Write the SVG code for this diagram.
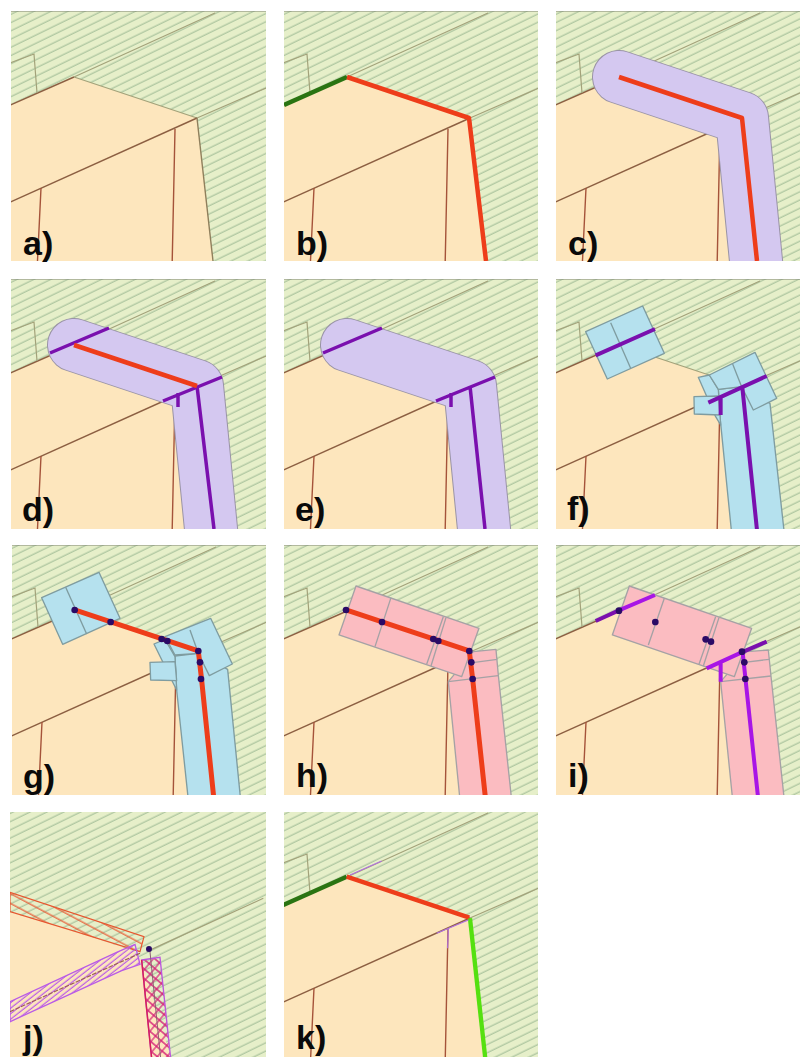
<svg xmlns="http://www.w3.org/2000/svg" xmlns:xlink="http://www.w3.org/1999/xlink" width="800" height="1057" viewBox="0 0 800 1057">
<style>
.lbl{font:bold 34px "Liberation Sans",Arial,sans-serif;fill:#0a0a0a}
.rid{fill:none;stroke:#8c5f42;stroke-width:1.4}
.faint{fill:none;stroke:#a3a27a;stroke-width:1.2}
.vert{fill:none;stroke:#a5533a;stroke-width:1.4}
.blue{fill:#b5e1ee;stroke:#7f9ca0;stroke-width:4;stroke-linejoin:round}
.pink{fill:#fbbcc1;stroke:#a5a2a5;stroke-width:4;stroke-linejoin:round}
.div{fill:none;stroke:#7f9ca0;stroke-width:4}
.pdiv{fill:none;stroke:#a5a2a5;stroke-width:4}
.red{fill:none;stroke:#ee3d1a;stroke-linejoin:round}
.pur{fill:none;stroke:#7a10ae}
.bpur{fill:none;stroke:#a815e6}
.dot{fill:#2a0a66}
</style>
<defs>
<pattern id="hatch" patternUnits="userSpaceOnUse" width="40" height="7.4" patternTransform="rotate(-26)">
<rect width="40" height="7.4" fill="#e6efc9"/><line x1="0" y1="3" x2="40" y2="3" stroke="#b2c9a3" stroke-width="1.5"/>
</pattern>
<pattern id="hRed" patternUnits="userSpaceOnUse" width="30" height="26" patternTransform="rotate(28)">
<line x1="0" y1="12" x2="30" y2="12" stroke="#e8562f" stroke-width="3.500"/>
</pattern>
<pattern id="hPur" patternUnits="userSpaceOnUse" width="30" height="13" patternTransform="rotate(-38)">
<line x1="0" y1="6" x2="30" y2="6" stroke="#b95be6" stroke-width="3.500"/>
</pattern>
<pattern id="hCross" patternUnits="userSpaceOnUse" width="22" height="22" patternTransform="rotate(40)">
<path d="M0 11H22M11 0V22" fill="none" stroke="#d51f77" stroke-width="3.500"/>
</pattern>
<clipPath id="ca"><rect x="11" y="11" width="255" height="250"/></clipPath>
<clipPath id="cb"><rect x="284" y="11" width="254" height="250"/></clipPath>
<clipPath id="cc"><rect x="556" y="11" width="244" height="250"/></clipPath>
<clipPath id="cd"><rect x="11" y="279" width="255" height="250"/></clipPath>
<clipPath id="ce"><rect x="284" y="279" width="254" height="250"/></clipPath>
<clipPath id="cf"><rect x="556" y="279" width="244" height="250"/></clipPath>
<clipPath id="cg"><rect x="12" y="545" width="254" height="250"/></clipPath>
<clipPath id="ch"><rect x="284" y="545" width="254" height="250"/></clipPath>
<clipPath id="ci"><rect x="556" y="545" width="244" height="250"/></clipPath>
<clipPath id="cj"><rect x="10" y="812" width="256" height="245"/></clipPath>
<clipPath id="ck"><rect x="284" y="812" width="254" height="245"/></clipPath>
<g id="base">
<rect x="-5" y="-5" width="300" height="265" fill="url(#hatch)"/>
<line x1="-5" y1="0" x2="300" y2="0" stroke="#7f8474" stroke-width="1.2"/>
<path d="M-5 96L63 66L186 107L203 260L-5 260Z" fill="#fde6bd"/>
<path d="M-5 96L63 66" class="rid"/>
<path d="M63 66L204 2" class="faint"/>
<path d="M63 66L186 107" class="faint"/>
<path d="M-5 53.500L23 43L26 82" class="faint"/>
<path d="M-5 193L186 107" class="rid"/>
<path d="M186 107L255 77" class="faint"/>
<path d="M186 107L202 250" fill="none" stroke="#8f7f5c" stroke-width="1.4"/>
<path d="M30 177L26 260M164 118L161 260" class="vert"/>
</g>
<g id="buf">
<path d="M63 66L186 107L201 260" fill="none" stroke="#9a94a6" stroke-width="54" stroke-linecap="round" stroke-linejoin="round"/>
<path d="M63 66L186 107L201 260" fill="none" stroke="#d4c8f0" stroke-width="52" stroke-linecap="round" stroke-linejoin="round"/>
</g>
</defs>

<g id="panel-a">
<g clip-path="url(#ca)"><use xlink:href="#base" href="#base" transform="translate(11,11)"/></g>
<text class="lbl" x="23" y="255">a)</text>
</g>

<g id="panel-b">
<g clip-path="url(#cb)"><use href="#base" transform="translate(284,11)"/>
<path d="M284 105L347 77" fill="none" stroke="#2a7412" stroke-width="4.500"/>
<path d="M347 77L469 118L486 261" class="red" stroke-width="4.500"/>
</g>
<text class="lbl" x="296" y="255">b)</text>
</g>

<g id="panel-c">
<g clip-path="url(#cc)"><use href="#base" transform="translate(556,11)"/>
<use href="#buf" transform="translate(556,11)"/>
<path d="M619 77L742 118L757 261" class="red" stroke-width="4.500"/>
</g>
<text class="lbl" x="568" y="255">c)</text>
</g>

<g id="panel-d">
<g clip-path="url(#cd)"><use href="#base" transform="translate(11,279)"/>
<use href="#buf" transform="translate(11,279)"/>
<path d="M50 353L109 328M163 401L222 377M178 393L178 407M197 386L214 529" class="pur" stroke-width="3.500"/>
<path d="M74 345L197 386" class="red" stroke-width="4.500"/>
</g>
<text class="lbl" x="22" y="521">d)</text>
</g>

<g id="panel-e">
<g clip-path="url(#ce)"><use href="#base" transform="translate(284,279)"/>
<use href="#buf" transform="translate(284,279)"/>
<path d="M323 353L382 328M436 401L495 377M451 393L451 407M470 386L485 529" class="pur" stroke-width="3.500"/>
</g>
<text class="lbl" x="295" y="521">e)</text>
</g>

<g id="panel-f">
<g clip-path="url(#cf)"><use href="#base" transform="translate(556,279)"/>
<g transform="translate(550,270) scale(0.3333)">
<polygon class="blue" points="107,185 278,108 343,250 172,327"/>
<path class="div" d="M182,158L242,295"/>
<polygon class="blue" points="505,358 575,350 660,400 703,790 545,790 510,440"/>
<polygon class="blue" points="445,322 478,315 505,358 512,465 497,440"/>
<polygon class="blue" points="478,315 615,247 680,385 610,420 575,350 505,358"/>
<path class="div" d="M548,282L575,350"/>
<polygon class="blue" points="432,380 505,378 510,435 433,432"/>
<path class="pur" stroke-width="12" d="M137,256L315,177M475,398L650,318M577,352L622,790M512,385L512,435"/>
</g></g>
<text class="lbl" x="567" y="520">f)</text>
</g>

<g id="panel-g">
<g clip-path="url(#cg)"><use href="#base" transform="translate(12,545)"/>
<g transform="translate(0,540) scale(0.3333)">
<polygon class="blue" points="125,173 297,97 360,235 188,313"/>
<path class="div" d="M197,142L260,282"/>
<polygon class="blue" points="525,348 595,340 683,388 722,780 565,780 530,450"/>
<polygon class="blue" points="462,312 495,298 525,350 530,450 515,420"/>
<polygon class="blue" points="495,290 632,235 697,372 628,407 595,340 525,345"/>
<path class="div" d="M570,270L595,340"/>
<polygon class="blue" points="450,367 525,365 530,422 452,420"/>
<path class="red" stroke-width="15" d="M224,210L595,333L605,420L642,780"/>
<g class="dot"><circle cx="224" cy="210" r="10"/><circle cx="332" cy="246" r="10"/><circle cx="485" cy="297" r="10"/><circle cx="502" cy="303" r="10"/><circle cx="595" cy="333" r="10"/><circle cx="600" cy="367" r="10"/><circle cx="603" cy="417" r="10"/></g>
</g></g>
<text class="lbl" x="23" y="788">g)</text>
</g>

<g id="panel-h">
<g clip-path="url(#ch)"><use href="#base" transform="translate(284,545)"/>
<g transform="translate(280,540) scale(0.3333)">
<polygon class="pink" points="505,425 580,335 648,328 655,405 695,780 540,780"/>
<path class="pdiv" d="M578,368L652,358M505,425L655,407"/>
<polygon class="pink" points="228,138 597,265 545,410 177,285"/>
<path class="pdiv" d="M333,173L285,320M490,230L440,373M498,233L453,378"/>
<path class="red" stroke-width="15" d="M198,210L568,333L578,417L617,780"/>
<g class="dot"><circle cx="198" cy="210" r="10"/><circle cx="306" cy="246" r="10"/><circle cx="460" cy="297" r="10"/><circle cx="475" cy="303" r="10"/><circle cx="568" cy="333" r="10"/><circle cx="574" cy="367" r="10"/><circle cx="578" cy="417" r="10"/></g>
</g></g>
<text class="lbl" x="296" y="787">h)</text>
</g>

<g id="panel-i">
<g clip-path="url(#ci)"><use href="#base" transform="translate(556,545)"/>
<g transform="translate(550,540) scale(0.3333)">
<polygon class="pink" points="512,425 590,335 655,330 663,408 703,780 548,780"/>
<path class="pdiv" d="M583,367L658,358M512,425L663,408"/>
<polygon class="pink" points="238,138 605,265 553,410 187,285"/>
<path class="pdiv" d="M343,175L295,315M497,230L447,373M507,233L460,378"/>
<path class="pur" stroke-width="12" d="M137,243L205,212M575,337L650,305"/>
<path class="bpur" stroke-width="12" d="M205,212L315,165M470,385L575,337M578,337L625,780M512,370L512,425"/>
<g class="dot"><circle cx="207" cy="212" r="10"/><circle cx="316" cy="246" r="10"/><circle cx="467" cy="298" r="10"/><circle cx="483" cy="305" r="10"/><circle cx="576" cy="335" r="10"/><circle cx="583" cy="367" r="10"/><circle cx="586" cy="417" r="10"/></g>
</g></g>
<text class="lbl" x="568" y="787">i)</text>
</g>

<g id="panel-j">
<g clip-path="url(#cj)">
<rect x="10" y="812" width="256" height="245" fill="url(#hatch)"/>
<g transform="translate(0,805) scale(0.3333)">
<path d="M30,322Q230,380 400,438L425,465L512,756L30,756Z" fill="#fde6bd"/>
<path d="M440,440L790,280" fill="none" stroke="#a3a27a" stroke-width="3.500"/>
<path d="M30,262L432,395L420,440Q230,380 30,320Z" fill="url(#hRed)" stroke="#e8562f" stroke-width="3.500"/>
<polygon points="30,590 350,442 405,418 420,478 365,497 30,650" fill="url(#hPur)" stroke="#b95be6" stroke-width="4"/>
<path d="M30,620L420,445" fill="none" stroke="#9c5f52" stroke-width="3.500" stroke-dasharray="14 4"/>
<polygon points="425,465 480,457 512,760 455,760" fill="url(#hCross)" stroke="#bb55dd" stroke-width="4"/>
<path d="M425,465L455,760" fill="none" stroke="#d51f5a" stroke-width="4.500"/>
<path d="M450,440L482,760" fill="none" stroke="#8c5f72" stroke-width="3"/>
<circle class="dot" cx="447" cy="432" r="9"/>
</g></g>
<text class="lbl" x="23" y="1049">j)</text>
</g>

<g id="panel-k">
<g clip-path="url(#ck)"><use href="#base" transform="translate(284,811)"/>
<g transform="translate(280,805) scale(0.3333)">
<path d="M10,300L200,215" fill="none" stroke="#2a7412" stroke-width="13"/>
<path d="M200,215L568,338" class="red" stroke-width="13"/>
<path d="M570,340L617,770" fill="none" stroke="#55e010" stroke-width="13"/>
<path d="M210,210L305,168M565,345L470,385M505,370L503,430" fill="none" stroke="#b070e0" stroke-width="3.500"/>
</g></g>
<text class="lbl" x="296" y="1049">k)</text>
</g>
</svg>
